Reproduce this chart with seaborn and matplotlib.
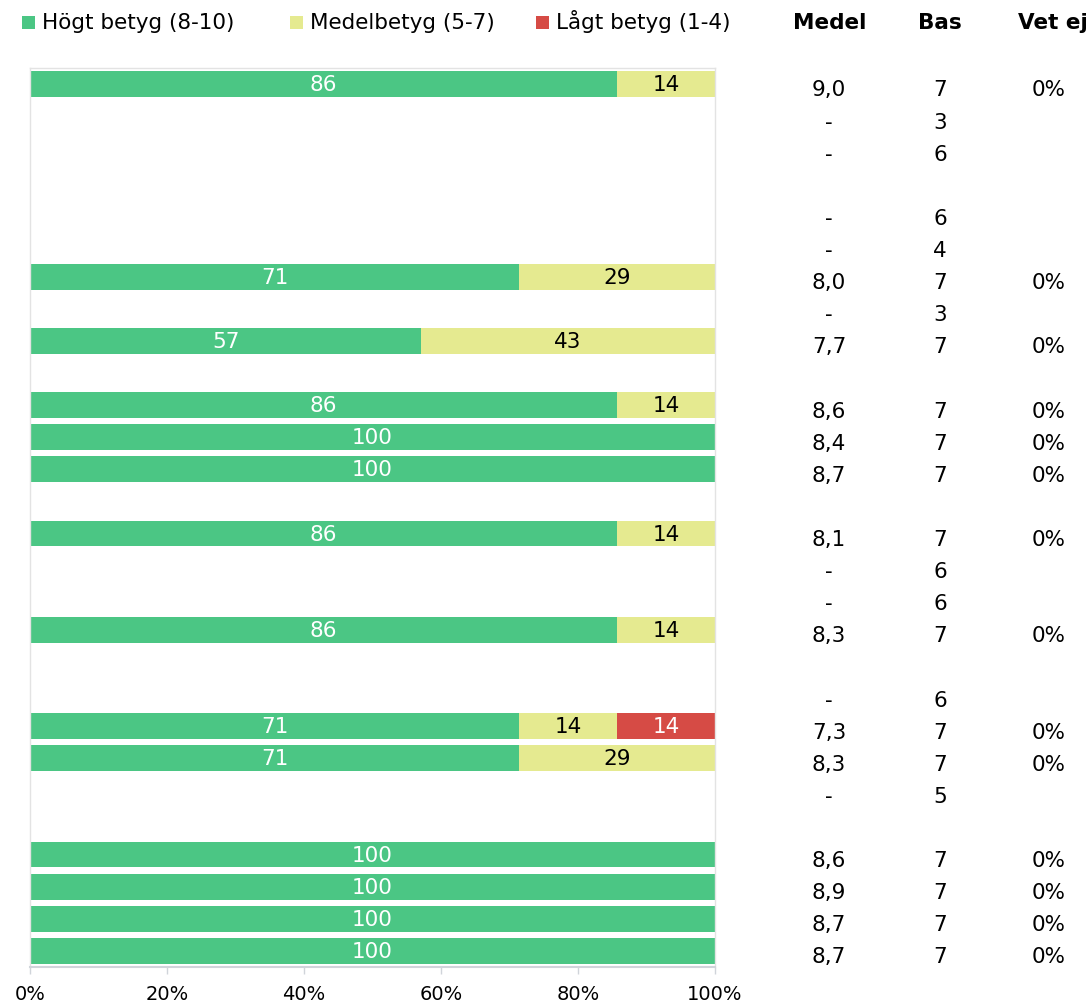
import numpy as np
import pandas as pd
import matplotlib
matplotlib.use("Agg")
import matplotlib.pyplot as plt
import seaborn as sns
from matplotlib.patches import Rectangle
from matplotlib.transforms import blended_transform_factory

# ---- data (28 rows, top to bottom); None = no bar ----
high = [85.7, None, None, None, None, None, 71.4, None, 57.1, None, 85.7, 100, 100, None,
        85.7, None, None, 85.7, None, None, 71.4, 71.4, None, None, 100, 100, 100, 100]
mid = [14.3, None, None, None, None, None, 28.6, None, 42.9, None, 14.3, 0, 0, None,
       14.3, None, None, 14.3, None, None, 14.3, 28.6, None, None, 0, 0, 0, 0]
low = [0, None, None, None, None, None, 0, None, 0, None, 0, 0, 0, None,
       0, None, None, 0, None, None, 14.3, 0, None, None, 0, 0, 0, 0]
medel = ["9,0", "-", "-", "", "-", "-", "8,0", "-", "7,7", "", "8,6", "8,4", "8,7", "",
         "8,1", "-", "-", "8,3", "", "-", "7,3", "8,3", "-", "", "8,6", "8,9", "8,7", "8,7"]
bas = ["7", "3", "6", "", "6", "4", "7", "3", "7", "", "7", "7", "7", "",
       "7", "6", "6", "7", "", "6", "7", "7", "5", "", "7", "7", "7", "7"]
vetej = ["0%", "", "", "", "", "", "0%", "", "0%", "", "0%", "0%", "0%", "",
         "0%", "", "", "0%", "", "", "0%", "0%", "", "", "0%", "0%", "0%", "0%"]
series_names = ["Högt betyg (8-10)", "Medelbetyg (5-7)", "Lågt betyg (1-4)"]
xtick_labels = ["0%", "20%", "40%", "60%", "80%", "100%"]

GREEN = "#4bc684"
YELLOW = "#e5ea90"
RED = "#d64b45"

n = len(high)
rows = [f"r{i}" for i in range(n)]
h = np.array([np.nan if v is None else v for v in high], dtype=float)
m = np.array([np.nan if v is None else v for v in mid], dtype=float)
l = np.array([np.nan if v is None else v for v in low], dtype=float)
df = pd.DataFrame({"row": rows, "c1": h, "c2": h + m, "c3": h + m + l})

sns.set_style("white")
plt.rcParams["font.family"] = ["DejaVu Sans"]
plt.rcParams["text.color"] = "black"

fig = plt.figure(figsize=(10.90, 10.06), dpi=100)
ax = fig.add_axes([30 / 1090, 39 / 1006, 685 / 1090, 899 / 1006])

bw = 0.8
for col, color in [("c3", RED), ("c2", YELLOW), ("c1", GREEN)]:
    sns.barplot(data=df, x=col, y="row", order=rows, orient="h", color=color,
                width=bw, saturation=1, ax=ax, linewidth=0, errorbar=None)

fs = 15.5
for i in range(n):
    if np.isnan(h[i]):
        continue
    segs = [(0, h[i], "white"), (h[i], m[i], "black"), (h[i] + m[i], l[i], "white")]
    for start, w, tc in segs:
        if w > 0:
            ax.text(start + w / 2, i + 0.03, f"{w:.0f}", ha="center", va="center",
                    color=tc, fontsize=fs)

ax.set_xlim(0, 100)
ax.set_ylim(n - 0.5, -0.5)
ax.set_xticks([0, 20, 40, 60, 80, 100])
ax.set_xticklabels(xtick_labels, fontsize=14, color="black")
ax.set_yticks([])
ax.set_xlabel("")
ax.set_ylabel("")
for s in ["left", "right", "top"]:
    ax.spines[s].set_color("#e3e3e3")
    ax.spines[s].set_linewidth(1)
ax.spines["bottom"].set_color("#d0d4da")
ax.spines["bottom"].set_linewidth(1.5)
ax.tick_params(axis="x", length=5, color="#d0d4da", width=1, pad=8, bottom=True)

# side columns
tr = blended_transform_factory(fig.transFigure, ax.transData)
for i in range(n):
    y = i + 0.2
    ax.text(829 / 1090, y, medel[i], transform=tr, ha="center", va="center", fontsize=fs)
    ax.text(940 / 1090, y, bas[i], transform=tr, ha="center", va="center", fontsize=fs)
    ax.text(1049 / 1090, y, vetej[i], transform=tr, ha="center", va="center", fontsize=fs)

base_y = 1 - 29 / 1006
fig.text(830 / 1090, base_y, "Medel", ha="center", va="baseline", fontsize=fs, fontweight="bold")
fig.text(940 / 1090, base_y, "Bas", ha="center", va="baseline", fontsize=fs, fontweight="bold")
fig.text(1018 / 1090, base_y, "Vet ej", ha="left", va="baseline", fontsize=fs, fontweight="bold")

# legend (manual placement)
sq_x = [22, 290, 536]
for sx, name, color in zip(sq_x, series_names, [GREEN, YELLOW, RED]):
    fig.patches.append(Rectangle((sx / 1090, (1006 - 29) / 1006), 13 / 1090, 13 / 1006,
                                 transform=fig.transFigure, color=color, lw=0))
    fig.text((sx + 20) / 1090, base_y, name, ha="left", va="baseline", fontsize=fs)

fig.savefig("out.png", dpi=100)
